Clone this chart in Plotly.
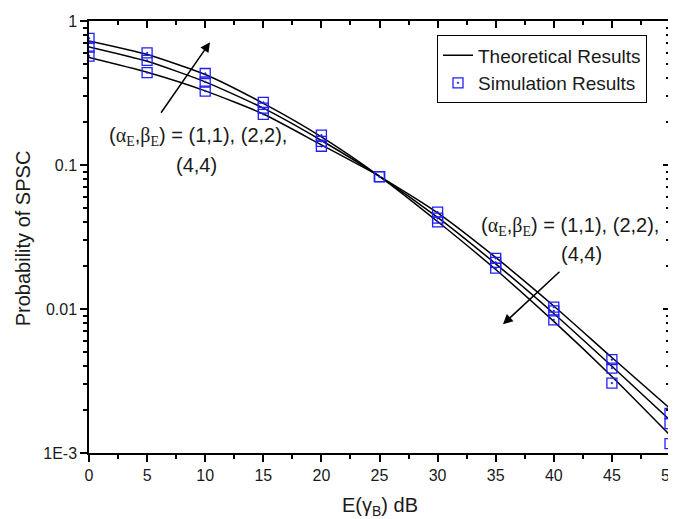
import plotly.graph_objects as go

# ---------------- data ----------------
snr_db = [0, 5, 10, 15, 20, 25, 30, 35, 40, 45, 50]

theory_11 = [0.557, 0.44, 0.327, 0.226, 0.138, 0.0835, 0.0465, 0.0228, 0.0105, 0.0046, 0.00204]
theory_22 = [0.66, 0.525, 0.378, 0.248, 0.148, 0.0835, 0.0433, 0.0206, 0.0093, 0.0040, 0.00169]
theory_44 = [0.726, 0.585, 0.425, 0.268, 0.157, 0.0835, 0.0405, 0.0188, 0.0082, 0.0034, 0.00133]

sim_11 = [0.571, 0.438, 0.326, 0.225, 0.135, 0.083, 0.047, 0.0225, 0.0103, 0.00445, 0.00188]
sim_22 = [0.66, 0.533, 0.377, 0.248, 0.146, 0.083, 0.0427, 0.0211, 0.0097, 0.00389, 0.0016]
sim_44 = [0.758, 0.60, 0.432, 0.272, 0.161, 0.083, 0.0403, 0.0192, 0.0084, 0.00306, 0.00116]

y_tickvals = [1, 0.1, 0.01, 0.001]
y_ticktext = ["1", "0.1", "0.01", "1E-3"]
y_minor = [k * 10 ** e for e in (-3, -2, -1) for k in range(2, 10)]

FONT = "Arial, Liberation Sans, sans-serif"
TXT = "#1a1a1a"

# page body has an 8px default margin -> figure drawn at (8, 8)
OFF = 8
PLOT_L, PLOT_R, PLOT_T, PLOT_B = 89, 670, 20.7, 452.7   # target page pixels
PW, PH = PLOT_R - PLOT_L, PLOT_B - PLOT_T

def px(xp):
    return (xp - PLOT_L) / PW

def py(yp):
    return (PLOT_B - yp) / PH

fig = go.Figure()

for i, t in enumerate([theory_11, theory_22, theory_44]):
    fig.add_trace(go.Scatter(
        x=snr_db, y=t, mode="lines",
        line=dict(color="black", width=1.5, shape="spline", smoothing=0.6),
        name="Theoretical Results", legendgroup="theory", showlegend=(i == 0),
    ))

for i, s in enumerate([sim_11, sim_22, sim_44]):
    fig.add_trace(go.Scatter(
        x=snr_db, y=s, mode="markers",
        marker=dict(symbol="square-open-dot", size=10, color="#1f1fff",
                    line=dict(width=1.3, color="#1f1fff")),
        name="Simulation Results", legendgroup="sim", showlegend=(i == 0),
    ))

# dummy trace so the mirrored (top / right) axes with inside ticks are drawn
fig.add_trace(go.Scatter(x=[None], y=[None], xaxis="x2", yaxis="y2",
                         showlegend=False, hoverinfo="skip"))

axis_common = dict(showline=True, linecolor="black", linewidth=1.5, automargin=False,
                   showgrid=False, zeroline=False, tickcolor="black", tickwidth=1.5,
                   ticklabeloverflow="allow",
                   tickfont=dict(family=FONT, size=16, color=TXT))

W, H = 676 - OFF, 519 - OFF
fig.update_layout(
    width=W, height=H,
    margin=dict(l=PLOT_L - OFF, r=W - (PLOT_R - OFF), t=PLOT_T - OFF, b=H - (PLOT_B - OFF),
                autoexpand=False),
    paper_bgcolor="white", plot_bgcolor="white",
    font=dict(family=FONT, color=TXT),
    xaxis=dict(range=[0, 50], tickmode="linear", tick0=0, dtick=5,
               ticks="outside", ticklen=7,
               minor=dict(ticks="outside", dtick=2.5, ticklen=4, tickwidth=1.5, tickcolor="black"),
               **axis_common),
    yaxis=dict(type="log", range=[-3, 0], tickmode="array",
               tickvals=y_tickvals, ticktext=y_ticktext,
               ticks="outside", ticklen=7,
               minor=dict(ticks="outside", tickvals=y_minor, ticklen=4, tickwidth=1.5, tickcolor="black"),
               **axis_common),
    xaxis2=dict(range=[0, 50], overlaying="x", side="top", anchor="y",
                tickmode="linear", tick0=0, dtick=5, ticks="inside", ticklen=7,
                showticklabels=False,
                minor=dict(ticks="inside", dtick=2.5, ticklen=4, tickwidth=1.5, tickcolor="black"),
                **axis_common),
    yaxis2=dict(type="log", range=[-3, 0], overlaying="y", side="right", anchor="x",
                tickmode="array", tickvals=y_tickvals, ticks="inside", ticklen=7,
                showticklabels=False,
                minor=dict(ticks="inside", tickvals=y_minor, ticklen=4, tickwidth=1.5, tickcolor="black"),
                **axis_common),
    legend=dict(x=px(647), y=py(35), xanchor="right", yanchor="top",
                bordercolor="black", borderwidth=1, bgcolor="white",
                font=dict(family=FONT, size=19, color=TXT),
                tracegroupgap=0, itemwidth=30),
    showlegend=True,
)

# axis titles
fig.add_annotation(xref="paper", yref="paper", x=px(380), y=py(506),
                   text="E(γ<sub>B</sub>) dB", showarrow=False, xanchor="center", yanchor="middle",
                   font=dict(family=FONT, size=20, color=TXT))
fig.add_annotation(xref="paper", yref="paper", x=px(23), y=py(238),
                   text="Probability of SPSC", showarrow=False, textangle=-90,
                   xanchor="center", yanchor="middle",
                   font=dict(family=FONT, size=20, color=TXT))

label1 = ('(<span style="font-family:Liberation Serif">α<sub>E</sub></span>,'
          '<span style="font-family:Liberation Serif">β<sub>E</sub></span>) = (1,1), (2,2),')
label2 = "(4,4)"

annots = [
    dict(x=px(198), y=py(136), text=label1),
    dict(x=px(196), y=py(165), text=label2),
    dict(x=px(570), y=py(226), text=label1),
    dict(x=px(581), y=py(254), text=label2),
]
for a in annots:
    fig.add_annotation(xref="paper", yref="paper", xanchor="center", yanchor="middle",
                       showarrow=False, font=dict(family=FONT, size=20, color=TXT), **a)

# arrows
fig.add_annotation(xref="paper", yref="paper", x=px(210), y=py(42), ax=-50, ay=72,
                   text="", showarrow=True, arrowhead=2, arrowsize=1.3, arrowwidth=1.5,
                   arrowcolor="black")
fig.add_annotation(xref="paper", yref="paper", x=px(503), y=py(324), ax=58, ay=-54,
                   text="", showarrow=True, arrowhead=2, arrowsize=1.3, arrowwidth=1.5,
                   arrowcolor="black")

fig.write_html("out.html")
